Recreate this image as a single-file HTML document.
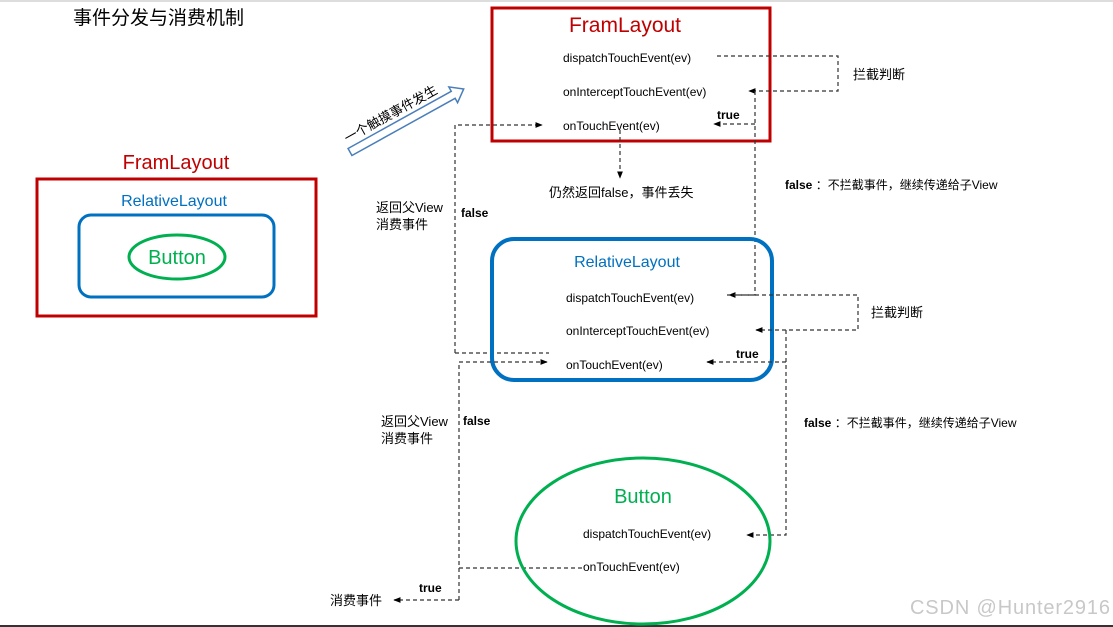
<!DOCTYPE html>
<html><head><meta charset="utf-8"><style>
html,body{margin:0;padding:0;background:#fff}
svg{display:block;font-family:"Liberation Sans","Noto Sans CJK SC",sans-serif}
</style></head><body>
<svg width="1113" height="627" viewBox="0 0 1113 627" xmlns="http://www.w3.org/2000/svg">
<defs>
<marker id="a" viewBox="0 0 10 10" refX="9" refY="5" markerWidth="6" markerHeight="6" orient="auto"><path d="M0,1 L10,5 L0,9 z" fill="#000"/></marker>
</defs>
<rect x="0" y="0" width="1113" height="2" fill="#ddd"/>
<rect x="0" y="625" width="1113" height="2" fill="#333"/>
<text x="73" y="24" font-size="19" fill="#000">事件分发与消费机制</text>

<!-- left small diagram -->
<text x="176" y="169" font-size="20" fill="#c00000" text-anchor="middle">FramLayout</text>
<rect x="37" y="179" width="279" height="137" fill="none" stroke="#c00000" stroke-width="3"/>
<text x="174" y="206" font-size="16" fill="#0070c0" text-anchor="middle">RelativeLayout</text>
<rect x="79" y="215" width="195" height="82" rx="12" fill="none" stroke="#0070c0" stroke-width="3"/>
<ellipse cx="177" cy="257" rx="48" ry="22" fill="none" stroke="#00b050" stroke-width="3"/>
<text x="177" y="264" font-size="20" fill="#00b050" text-anchor="middle">Button</text>

<!-- hollow arrow -->
<g transform="translate(350,152) rotate(-29)">
<path d="M0,-4 L118,-4 L118,-9 L130,0 L118,9 L118,4 L0,4 z" fill="#fff" stroke="#4a7ebb" stroke-width="1.5"/>
<text x="2" y="-9" font-size="13" fill="#000">一个触摸事件发生</text>
</g>

<!-- top FramLayout -->
<rect x="492" y="8" width="278" height="133" fill="none" stroke="#c00000" stroke-width="3"/>
<text x="625" y="32" font-size="21" fill="#c00000" text-anchor="middle">FramLayout</text>
<g font-size="12" fill="#000">
<text x="563" y="62">dispatchTouchEvent(ev)</text>
<text x="563" y="96">onInterceptTouchEvent(ev)</text>
<text x="563" y="130">onTouchEvent(ev)</text>
</g>
<g fill="none" stroke="#333" stroke-width="1.2" stroke-dasharray="4,3">
<polyline points="717,56 838,56 838,91 749,91" marker-end="url(#a)"/>
<polyline points="755,91 755,295 729,295" marker-end="url(#a)"/>
<polyline points="755,124 714,124" marker-end="url(#a)"/>
<polyline points="620,130 620,178" marker-end="url(#a)"/>
<polyline points="455,353 455,125 542,125" marker-end="url(#a)"/>
<polyline points="455,353 549,353"/>
</g>
<text x="853" y="79" font-size="13">拦截判断</text>
<text x="717" y="119" font-size="12" font-weight="bold">true</text>
<text x="549" y="197" font-size="13">仍然返回false，事件丢失</text>
<text x="785" y="189" font-size="12"><tspan font-weight="bold">false</tspan> ：不拦截事件，继续传递给子View</text>
<text x="376" y="212" font-size="13">返回父View</text>
<text x="376" y="229" font-size="13">消费事件</text>
<text x="461" y="217" font-size="12" font-weight="bold">false</text>

<!-- RelativeLayout -->
<rect x="492" y="239" width="280" height="141" rx="22" fill="none" stroke="#0070c0" stroke-width="4"/>
<text x="627" y="267" font-size="16" fill="#0070c0" text-anchor="middle">RelativeLayout</text>
<g font-size="12" fill="#000">
<text x="566" y="302">dispatchTouchEvent(ev)</text>
<text x="566" y="335">onInterceptTouchEvent(ev)</text>
<text x="566" y="369">onTouchEvent(ev)</text>
</g>
<g fill="none" stroke="#333" stroke-width="1.2" stroke-dasharray="4,3">
<polyline points="727,295 858,295 858,330 756,330" marker-end="url(#a)"/>
<polyline points="786,330 786,535 747,535" marker-end="url(#a)"/>
<polyline points="786,362 707,362" marker-end="url(#a)"/>
<polyline points="459,600 459,362 547,362" marker-end="url(#a)"/>
<polyline points="459,600 394,600" marker-end="url(#a)"/>
<polyline points="459,568 583,568"/>
</g>
<text x="871" y="317" font-size="13">拦截判断</text>
<text x="736" y="358" font-size="12" font-weight="bold">true</text>
<text x="804" y="427" font-size="12"><tspan font-weight="bold">false</tspan> ：不拦截事件，继续传递给子View</text>
<text x="381" y="426" font-size="13">返回父View</text>
<text x="381" y="443" font-size="13">消费事件</text>
<text x="463" y="425" font-size="12" font-weight="bold">false</text>
<text x="419" y="592" font-size="12" font-weight="bold">true</text>
<text x="330" y="605" font-size="13">消费事件</text>

<!-- Button -->
<ellipse cx="643" cy="541" rx="127" ry="83" fill="none" stroke="#00b050" stroke-width="3"/>
<text x="643" y="503" font-size="20" fill="#00b050" text-anchor="middle">Button</text>
<g font-size="12" fill="#000">
<text x="583" y="538">dispatchTouchEvent(ev)</text>
<text x="583" y="571">onTouchEvent(ev)</text>
</g>

<text x="910" y="614" font-size="20" fill="#c8c8c8" textLength="200">CSDN @Hunter2916</text>
</svg>
</body></html>
